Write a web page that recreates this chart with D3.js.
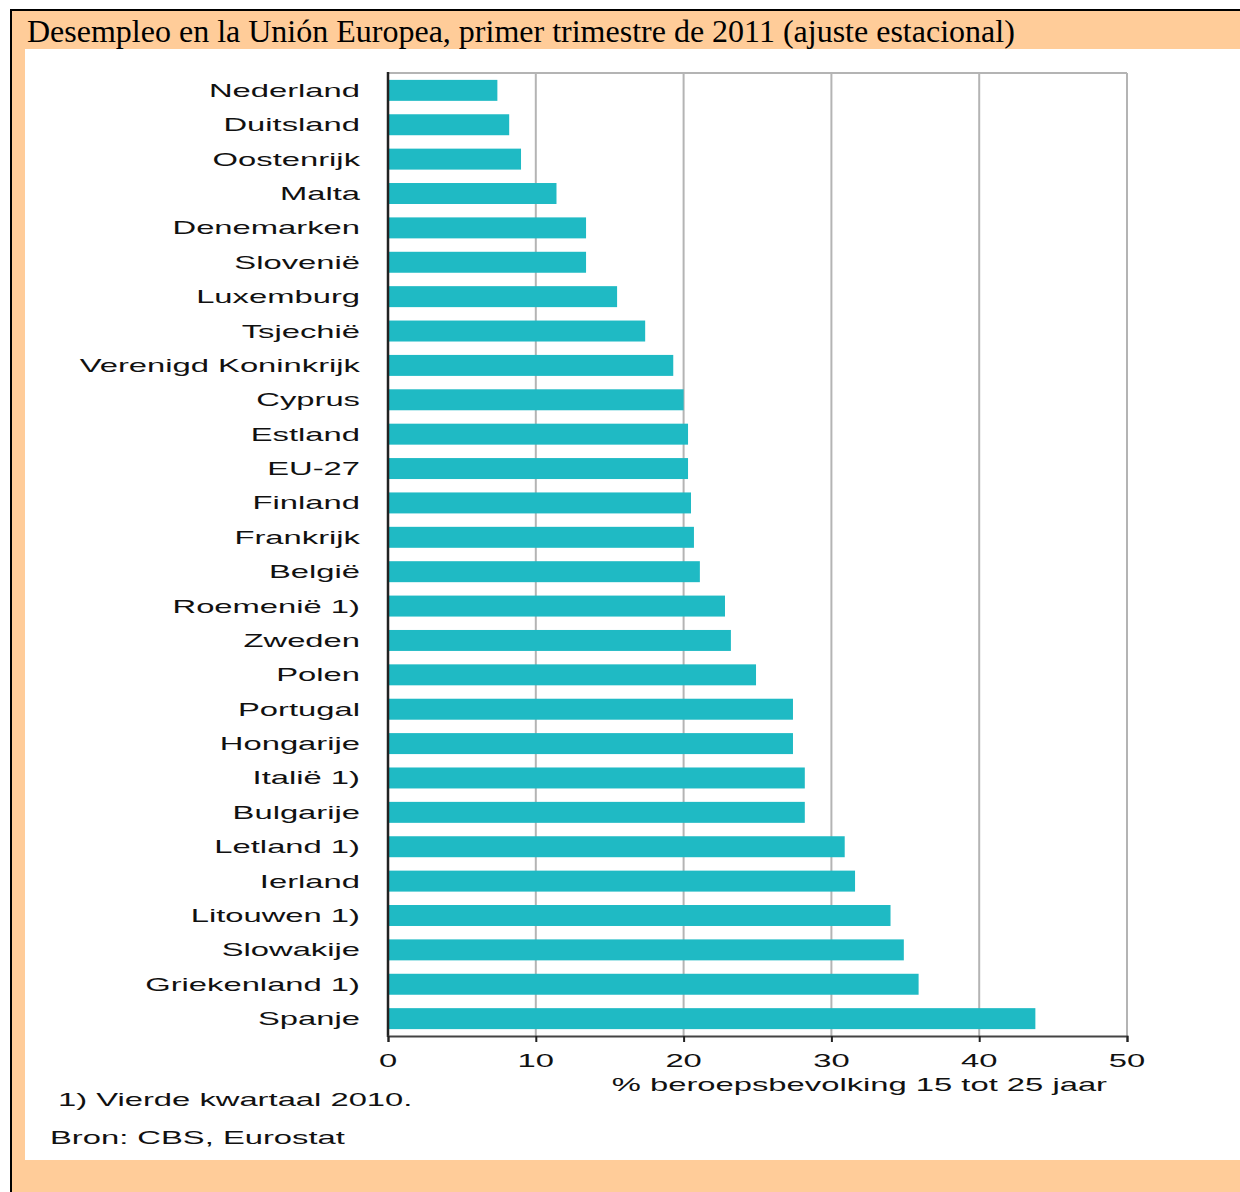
<!DOCTYPE html>
<html>
<head>
<meta charset="utf-8">
<script src="https://cdn.jsdelivr.net/npm/d3@7"></script>
<style>
  body { margin: 0; background: #fff; }
  svg { display: block; }
</style>
</head>
<body>
<svg id="chart" width="1240" height="1192"></svg>
<script>
// countries, top to bottom
var countries = ["Nederland", "Duitsland", "Oostenrijk", "Malta", "Denemarken", "Sloveni\u00eb",
  "Luxemburg", "Tsjechi\u00eb", "Verenigd Koninkrijk", "Cyprus", "Estland", "EU-27", "Finland",
  "Frankrijk", "Belgi\u00eb", "Roemeni\u00eb 1)", "Zweden", "Polen", "Portugal", "Hongarije",
  "Itali\u00eb 1)", "Bulgarije", "Letland 1)", "Ierland", "Litouwen 1)", "Slowakije",
  "Griekenland 1)", "Spanje"];
// % beroepsbevolking 15 tot 25 jaar
var values = [7.4, 8.2, 9.0, 11.4, 13.4, 13.4, 15.5, 17.4, 19.3, 20.0, 20.3, 20.3, 20.5,
  20.7, 21.1, 22.8, 23.2, 24.9, 27.4, 27.4, 28.2, 28.2, 30.9, 31.6, 34.0, 34.9, 35.9, 43.8];
var ticks = [0, 10, 20, 30, 40, 50];

var title = "Desempleo en la Uni\u00f3n Europea, primer trimestre de 2011 (ajuste estacional)";
var axisTitle = "% beroepsbevolking 15 tot 25 jaar";
var note = "1) Vierde kwartaal 2010.";
var source = "Bron: CBS, Eurostat";

(function() {
  var svg = d3.select("#chart");
  var stretch = 1.82; // the old chart font is wide

  // frame
  svg.append("rect").attr("x", 11).attr("y", 10).attr("width", 1240).attr("height", 1200)
    .attr("fill", "#ffcc99").attr("stroke", "#000").attr("stroke-width", 2);
  svg.append("rect").attr("x", 25).attr("y", 49).attr("width", 1215).attr("height", 1111)
    .attr("fill", "#fff");
  svg.append("text").attr("x", 27).attr("y", 42).text(title)
    .attr("font-family", "Liberation Serif, Times New Roman, serif")
    .attr("font-size", 32).attr("fill", "#000");

  var pLeft = 388, pRight = 1127, pTop = 73, pBottom = 1036;
  var x = d3.scaleLinear().domain([0, 50]).range([pLeft, pRight]);
  var y = d3.scaleBand().domain(countries).range([pTop, pBottom])
    .paddingInner(0.39).paddingOuter(0.2);

  // grid
  svg.append("g").selectAll("line").data(ticks.slice(1))
    .enter().append("line")
    .attr("x1", function(d) { return x(d); }).attr("x2", function(d) { return x(d); })
    .attr("y1", pTop).attr("y2", pBottom)
    .attr("stroke", "#b4b4b4").attr("stroke-width", 2);
  svg.append("line").attr("x1", pLeft).attr("x2", pRight).attr("y1", pTop).attr("y2", pTop)
    .attr("stroke", "#b4b4b4").attr("stroke-width", 2);

  // bars
  svg.append("g").selectAll("rect").data(values)
    .enter().append("rect")
    .attr("x", x(0))
    .attr("y", function(d, i) { return y(countries[i]); })
    .attr("width", function(d) { return x(d) - x(0); })
    .attr("height", y.bandwidth())
    .attr("fill", "#1fbac4");

  // axes lines
  svg.append("line").attr("x1", pLeft).attr("x2", pLeft).attr("y1", pTop - 1).attr("y2", pBottom + 1)
    .attr("stroke", "#222").attr("stroke-width", 2.5);
  var xAxis = svg.append("g").attr("transform", "translate(0," + pBottom + ")")
    .call(d3.axisBottom(x).tickValues(ticks).tickSize(6).tickFormat(""));
  xAxis.select(".domain").attr("stroke", "#444").attr("stroke-width", 2);
  xAxis.selectAll(".tick line").attr("stroke", "#222").attr("stroke-width", 2);

  var labelFont = "Liberation Sans, Arial, sans-serif";
  function wideText(sel, tx, ty, anchor, size) {
    sel.attr("transform", "translate(" + tx + "," + ty + ") scale(" + stretch + ",1)")
      .attr("text-anchor", anchor)
      .attr("font-family", labelFont)
      .attr("font-size", size)
      .attr("fill", "#111");
  }

  // category labels
  svg.append("g").selectAll("text").data(countries)
    .enter().append("text")
    .text(function(d) { return d; })
    .each(function(d) {
      wideText(d3.select(this), 360, y(d) + y.bandwidth() / 2 + 6.5, "end", 18);
    });

  // tick labels
  svg.append("g").selectAll("text").data(ticks)
    .enter().append("text")
    .text(function(d) { return d; })
    .each(function(d) {
      wideText(d3.select(this), x(d), 1067, "middle", 18);
    });

  wideText(svg.append("text").text(axisTitle), 1107, 1091, "end", 18);
  wideText(svg.append("text").text(note), 58, 1106, "start", 18);
  wideText(svg.append("text").text(source), 50, 1144, "start", 18);
})();
</script>
</body>
</html>
